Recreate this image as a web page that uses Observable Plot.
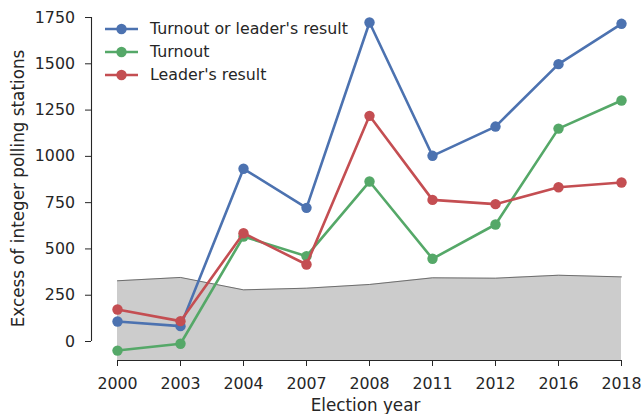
<!DOCTYPE html>
<html>
<head>
<meta charset="utf-8">
<script src="https://cdn.jsdelivr.net/npm/d3@7"></script>
<script src="https://cdn.jsdelivr.net/npm/@observablehq/plot@0.6"></script>
<style>
  body { margin: 0; background: #fff; }
  #wrap { position: relative; width: 642px; height: 414px; font-family: "DejaVu Sans", sans-serif; }
  #legend { position: absolute; left: 105px; top: 17px; font-size: 15.8px; color: #262626; }
  #legend .row { height: 23px; display: flex; align-items: center; }
  #legend svg { margin-right: 12px; }
</style>
</head>
<body>
<div id="wrap"><div id="legend"></div></div>
<script>
// ---- data ----
const years = ["2000", "2003", "2004", "2007", "2008", "2011", "2012", "2016", "2018"];
const turnoutOrLeader = [108, 83, 933, 722, 1723, 1003, 1161, 1498, 1716];
const turnout = [-49, -12, 567, 461, 864, 447, 632, 1150, 1302];
const leaderResult = [173, 110, 585, 416, 1219, 765, 742, 833, 859];
const baseline = [328, 346, 279, 288, 308, 344, 342, 358, 349];
const yTicks = [0, 250, 500, 750, 1000, 1250, 1500, 1750];
const seriesNames = ["Turnout or leader's result", "Turnout", "Leader's result"];
const seriesValues = [turnoutOrLeader, turnout, leaderResult];
const colors = ["#4c72b0", "#55a868", "#c44e52"];

const yMin = -102.6, yMax = 1755.5;
const xLo = -26 / 63, xHi = years.length - 1 + 18 / 63;

const idx = years.map((_, i) => i);
const series = seriesNames.map((name, s) =>
  idx.map(i => ({ i, v: seriesValues[s][i], name })));
const base = idx.map(i => ({ i, v: baseline[i] }));

const ink = "#262626";
const marks = [
  Plot.areaY(base, { x: "i", y1: yMin, y2: "v", fill: "#cccccc" }),
  Plot.lineY(base, { x: "i", y: "v", stroke: "#555", strokeWidth: 0.8 }),
];
series.forEach((data, s) => {
  marks.push(Plot.lineY(data, { x: "i", y: "v", stroke: colors[s], strokeWidth: 2.6 }));
  marks.push(Plot.dot(data, { x: "i", y: "v", fill: colors[s], r: 5.2, stroke: "none" }));
});
marks.push(
  Plot.ruleX([xLo], { y1: yTicks[0], y2: yTicks[yTicks.length - 1], stroke: ink, strokeWidth: 1.1 }),
  Plot.ruleY([yMin], { x1: 0, x2: years.length - 1, stroke: ink, strokeWidth: 1.1 }),
  Plot.axisY({ ticks: yTicks, tickFormat: d => String(d), tickSize: 6, tickPadding: 10.5, label: null, fontSize: 15.8, color: ink }),
  Plot.axisX({ ticks: idx, tickFormat: i => years[i], tickSize: 6, tickPadding: 11.5, label: null, fontSize: 15.8, color: ink }),
  Plot.text(["Excess of integer polling stations"], { frameAnchor: "left", textAnchor: "middle", rotate: -90, dx: -72.5, fontSize: 16.8, fill: ink }),
  Plot.text(["Election year"], { frameAnchor: "bottom", dy: 50, fontSize: 16.8, fill: ink })
);

const chart = Plot.plot({
  width: 642,
  height: 414,
  marginLeft: 91,
  marginRight: 3,
  marginTop: 16,
  marginBottom: 54,
  style: { fontFamily: "DejaVu Sans, sans-serif", background: "#fff", overflow: "visible" },
  x: { type: "linear", domain: [xLo, xHi] },
  y: { domain: [yMin, yMax] },
  marks
});
document.getElementById("wrap").prepend(chart);

// legend
const legend = document.getElementById("legend");
seriesNames.forEach((name, s) => {
  const row = document.createElement("div");
  row.className = "row";
  row.innerHTML = `<svg width="33" height="12"><line x1="0" y1="6" x2="33" y2="6" stroke="${colors[s]}" stroke-width="2.6"/><circle cx="16.5" cy="6" r="5.2" fill="${colors[s]}"/></svg><span>${name}</span>`;
  legend.appendChild(row);
});
</script>
</body>
</html>
